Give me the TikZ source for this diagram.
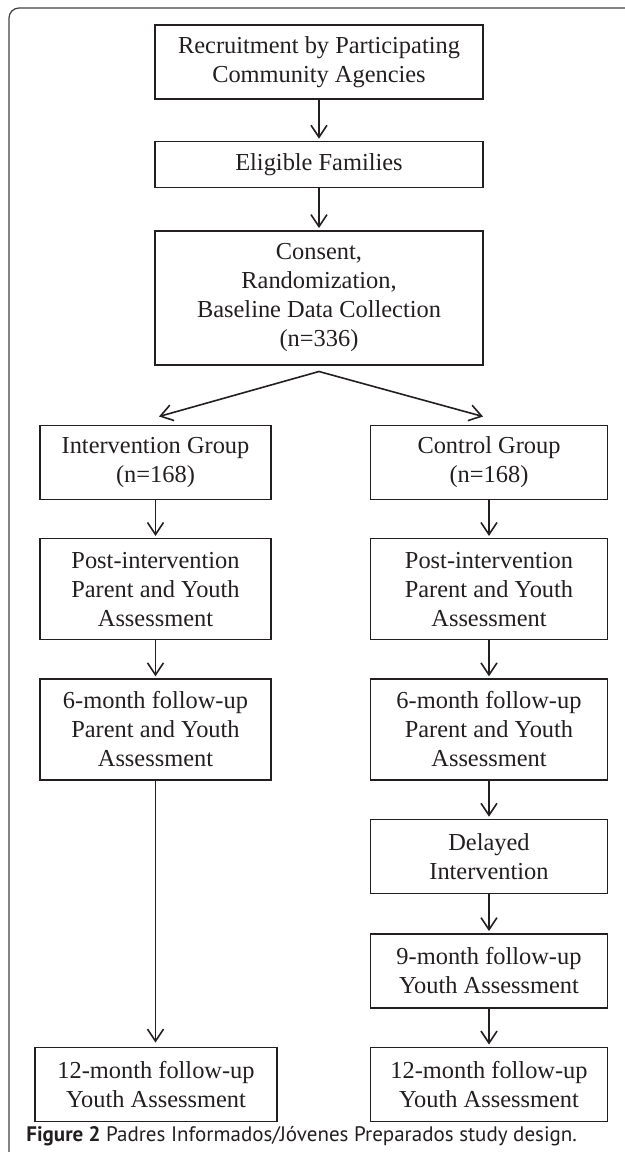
\documentclass[tikz,border=0pt]{standalone}
\usepackage{fontspec}
\setmainfont{Liberation Serif}
\setsansfont{PT Sans}
\usepackage{tikz}
\usetikzlibrary{arrows.meta,positioning}

\definecolor{ink}{HTML}{231F20}

\begin{document}
\begin{tikzpicture}[
  node distance=19pt,
  block/.style={draw=ink,text=ink,line width=0.7pt,align=center,inner sep=2pt,
    font=\fontsize{12.2}{14.5}\selectfont},
  wide/.style={block,minimum width=164pt},
  colL/.style={block,minimum width=115.5pt},
  colR/.style={block,minimum width=118.5pt},
  one/.style={minimum height=23pt},
  two/.style={minimum height=37pt},
  three/.style={minimum height=50.5pt},
  four/.style={minimum height=67pt},
  flow/.style={draw=ink,line width=0.8pt,-{Straight Barb[length=6pt,width=8pt,line width=0.8pt]}},
  frame/.style={draw=ink!85,line width=0.6pt,rounded corners=5pt}
]
  \useasboundingbox (0,0) rectangle (312.5pt,-576pt);
  \draw[frame] (4.5pt,-4pt) rectangle (340pt,-600pt);

  % trunk
  \node[wide,two] (recruit) at (159.5pt,-31pt) {Recruitment by Participating\\Community Agencies};
  \node[wide,one,below=20.5pt of recruit] (eligible) {Eligible Families};
  \node[wide,four,below=21pt of eligible] (consent) {Consent,\\Randomization,\\Baseline Data Collection\\(n=336)};
  \coordinate[below=3pt of consent] (split);

  % intervention arm
  \node[colL,two,below=29.5pt of consent,xshift=-81.75pt] (interv) {Intervention Group\\(n=168)};
  \node[colL,three,below=of interv] (ipost) {Post-intervention\\Parent and Youth\\Assessment};
  \node[colL,three,below=of ipost] (isix) {6-month follow-up\\Parent and Youth\\Assessment};

  % control arm
  \node[colR,two,below=29.5pt of consent,xshift=85pt] (control) {Control Group\\(n=168)};
  \node[colR,three,below=of control] (cpost) {Post-intervention\\Parent and Youth\\Assessment};
  \node[colR,three,below=of cpost] (csix) {6-month follow-up\\Parent and Youth\\Assessment};
  \node[colR,two,below=of csix] (delayed) {Delayed\\Intervention};
  \node[colR,two,below=19.5pt of delayed] (cnine) {9-month follow-up\\Youth Assessment};
  \node[colR,two,below=of cnine] (ctwelve) {12-month follow-up\\Youth Assessment};
  \node[block,two,minimum width=121pt] (itwelve) at ([xshift=0.25pt]isix |- ctwelve) {12-month follow-up\\Youth Assessment};

  \node[anchor=base west,inner sep=0pt,text=ink,font=\sffamily\fontsize{10.5}{12.5}\selectfont]
    (caption) at (13pt,-570.5pt) {\textbf{Figure 2} Padres Informados/Jóvenes Preparados study design.};

  \draw[flow,shorten >=1pt] (recruit) -- (eligible);
  \draw[flow,shorten >=1pt] (eligible) -- (consent);
  \draw[flow] (split) -- ([shift={(1.75pt,4pt)}]interv.north);
  \draw[flow] (split) -- ([shift={(-3pt,4pt)}]control.north);
  \draw[flow,shorten >=1pt] (interv) -- (ipost);
  \draw[flow,shorten >=1pt] (ipost) -- (isix);
  \draw[flow,shorten >=2pt] (isix.south) -- (isix.south |- itwelve.north);
  \draw[flow,shorten >=1pt] (control) -- (cpost);
  \draw[flow,shorten >=1pt] (cpost) -- (csix);
  \draw[flow,shorten >=1pt] (csix) -- (delayed);
  \draw[flow,shorten >=1pt] (delayed) -- (cnine);
  \draw[flow,shorten >=1pt] (cnine) -- (ctwelve);
\end{tikzpicture}
\end{document}
